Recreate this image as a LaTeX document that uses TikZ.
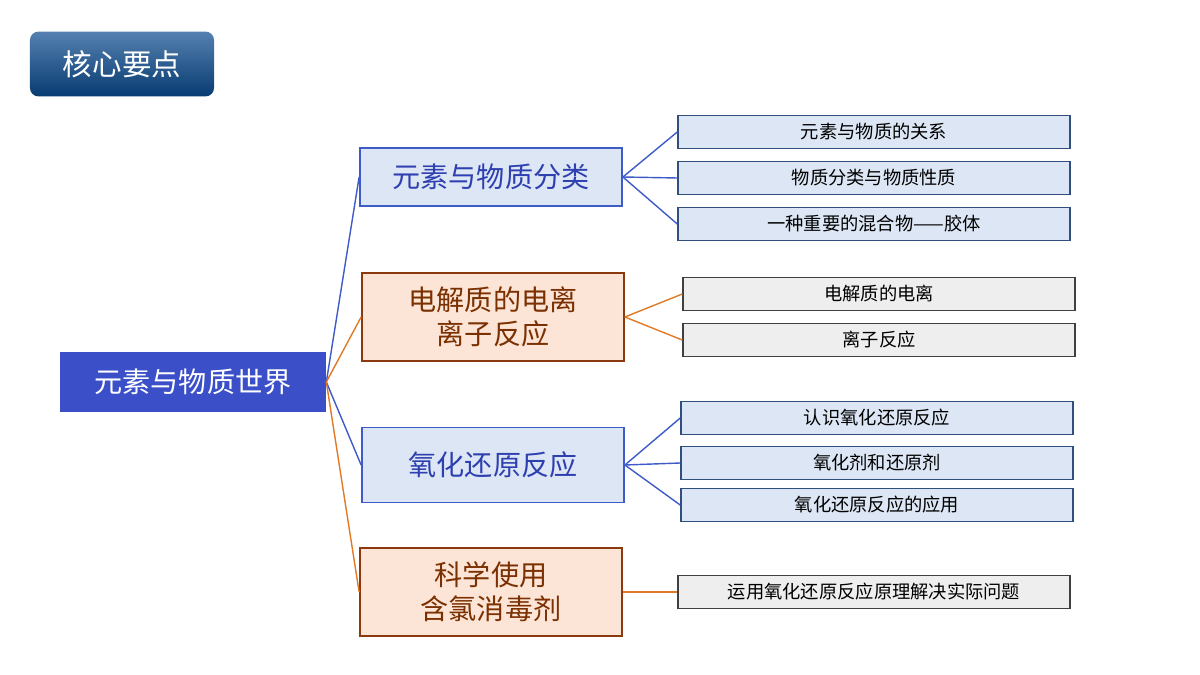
\documentclass[tikz,border=0pt]{standalone}
\usepackage{fontspec}
\setmainfont{Noto Sans CJK SC}
\usetikzlibrary{positioning}
\definecolor{hdblue}{HTML}{0A4A8E}
\definecolor{rootblue}{HTML}{3A4FC8}
\definecolor{lblue}{HTML}{DCE6F4}
\definecolor{bline}{HTML}{3E5BC8}
\definecolor{btext}{HTML}{2E3FB0}
\definecolor{lorange}{HTML}{FCE4D6}
\definecolor{oline}{HTML}{8B3A0F}
\definecolor{otext}{HTML}{7A3000}
\definecolor{oconn}{HTML}{E07A26}
\definecolor{leafline}{HTML}{2F4F7F}
\definecolor{lgrey}{HTML}{EEEEEE}
\begin{document}
\begin{tikzpicture}[x=0.025cm,y=-0.025cm,
	every node/.style={inner sep=0pt,align=center},
	% ke hop chinh
	mainb/.style={draw=bline,fill=lblue,text=btext,line width=1.2pt,font=\fontsize{20}{24}\selectfont,minimum width=6.55cm,minimum height=1.45cm},
	maino/.style={draw=oline,fill=lorange,text=otext,line width=1.2pt,font=\fontsize{20}{24}\selectfont,minimum width=6.55cm,minimum height=2.2cm},
	% la
	leafb/.style={draw=leafline,fill=lblue,line width=1pt,font=\fontsize{13}{15}\selectfont,minimum width=9.8cm,minimum height=0.82cm},
	leafg/.style={draw=black!75,fill=lgrey,line width=1pt,font=\fontsize{13}{15}\selectfont,minimum width=9.8cm,minimum height=0.82cm},
	cb/.style={draw=bline,line width=1pt},
	co/.style={draw=oconn,line width=1pt}]
\useasboundingbox (0,0) rectangle (1200,675);
\node[rounded corners=6pt,top color=hdblue!70,bottom color=hdblue!80!black,text=white,font=\fontsize{21}{24}\selectfont,minimum width=4.6cm,minimum height=1.62cm] (hd) at (122,64) {核心要点};
\node[fill=rootblue,text=white,font=\fontsize{20}{24}\selectfont,minimum width=6.65cm,minimum height=1.5cm] (root) at (193,382) {元素与物质世界};
%
\node[mainb] (m1) at (491,177) {元素与物质分类};
\node[maino] (m2) at (493,317) {电解质的电离\\离子反应};
\node[mainb,minimum height=1.88cm] (m3) at (493,465) {氧化还原反应};
\node[maino] (m4) at (491,592) {科学使用\\含氯消毒剂};
%
\node[leafb] (a1) at (874,132) {元素与物质的关系};
\node[leafb] (a2) at (874,178) {物质分类与物质性质};
\node[leafb] (a3) at (874,224) {一种重要的混合物——胶体};
\node[leafg] (b1) at (879,294) {电解质的电离};
\node[leafg] (b2) at (879,340) {离子反应};
\node[leafb] (c1) at (877,418) {认识氧化还原反应};
\node[leafb] (c2) at (877,463) {氧化剂和还原剂};
\node[leafb] (c3) at (877,505) {氧化还原反应的应用};
\node[leafg] (d1) at (874,592) {运用氧化还原反应原理解决实际问题};
%
\draw[cb] (root.east)--(m1.west) (root.east)--(m3.west);
\draw[co] (root.east)--(m2.west) (root.east)--(m4.west);
\foreach \l in {a1,a2,a3} \draw[cb] (m1.east)--(\l.west);
\foreach \l in {b1,b2} \draw[co] (m2.east)--(\l.west);
\foreach \l in {c1,c2,c3} \draw[cb] (m3.east)--(\l.west);
\draw[co] (m4.east)--(d1.west);
\end{tikzpicture}
\end{document}
